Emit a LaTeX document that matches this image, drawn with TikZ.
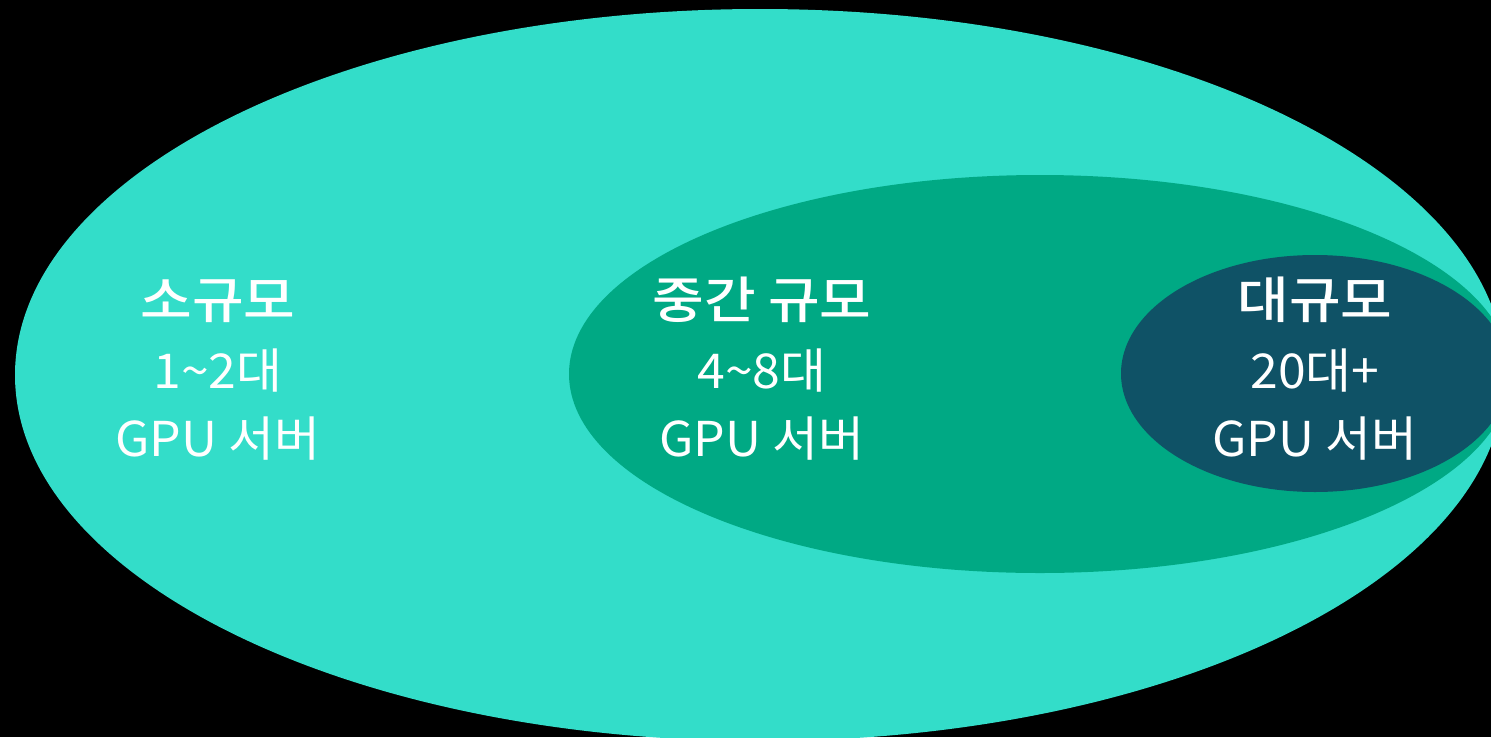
\documentclass[tikz,border=0pt]{standalone}
\usepackage{fontspec}
\setmainfont{Noto Sans CJK KR}
\newfontfamily\titlefont{Noto Sans CJK KR Medium}
\definecolor{bigc}{RGB}{51,221,201}
\definecolor{midc}{RGB}{0,169,132}
\definecolor{smallc}{RGB}{15,82,102}
\tikzset{
  lbl/.style={text=white, font=\fontsize{48}{48}\selectfont, anchor=base, inner sep=0pt, xscale=1.04},
  ttl/.style={lbl, font=\titlefont\fontsize{50}{50}\selectfont, xscale=1.08}
}
\begin{document}
\begin{tikzpicture}[x=1pt,y=-1pt]
\useasboundingbox (0,0) rectangle (1491,737);
\fill[black] (0,0) rectangle (1491,737);
\begin{scope}
\clip (0,0) rectangle (1491,737);
\fill[bigc] (760,375) ellipse [x radius=745pt, y radius=366pt];
\fill[midc] (1040,374) ellipse [x radius=471pt, y radius=199pt];
\fill[smallc] (1315,373.5) ellipse [x radius=194pt, y radius=118.5pt];
\end{scope}
\node[ttl] (s1) at (218,318) {소규모};
\node[lbl] (s2) at (218,388) {1\textasciitilde 2대};
\node[lbl] (s3) at (218,456) {GPU 서버};
\node[ttl] (m1) at (762,318) {중간 규모};
\node[lbl] (m2) at (762,388) {4\textasciitilde 8대};
\node[lbl] (m3) at (762,456) {GPU 서버};
\node[ttl] (l1) at (1315,318) {대규모};
\node[lbl] (l2) at (1315,388) {20대+};
\node[lbl] (l3) at (1315,456) {GPU 서버};
\end{tikzpicture}
\end{document}
